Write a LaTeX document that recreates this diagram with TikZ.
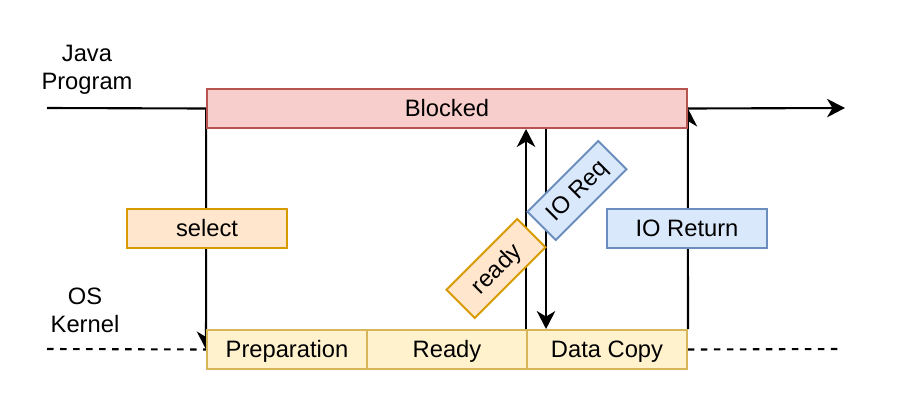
\documentclass[tikz,border=0pt]{standalone}
\usepackage{fontspec}
\setmainfont{Liberation Sans}
\usetikzlibrary{arrows.meta,backgrounds,calc}
\definecolor{blockfill}{HTML}{F8CECC}
\definecolor{blockline}{HTML}{B85450}
\definecolor{kernfill}{HTML}{FFF2CC}
\definecolor{kernline}{HTML}{D6B656}
\definecolor{callfill}{HTML}{FFE6CC}
\definecolor{callline}{HTML}{D79B00}
\definecolor{iofill}{HTML}{DAE8FC}
\definecolor{ioline}{HTML}{6C8EBF}

\begin{document}
\begin{tikzpicture}[x=0.02cm, y=-0.02cm,
        every node/.style={font=\fontsize{13.5}{16}\selectfont},
        box/.style={draw, line width=1.1pt, minimum height=0.78cm, minimum width=3.2cm, inner sep=0pt, text depth=0.1ex},
        redbox/.style={box, draw=blockline, fill=blockfill, minimum width=9.6cm},
        yelbox/.style={box, draw=kernline, fill=kernfill},
        orabox/.style={box, draw=callline, fill=callfill},
        bluebox/.style={box, draw=ioline, fill=iofill},
        tilted/.style={rotate=45, minimum width=2cm, minimum height=0.8cm},
        conn/.style={black, line width=1.2pt},
        arr/.style={conn, -{Stealth[length=0.36cm, width=0.37cm, inset=0.11cm]}}]
        \useasboundingbox (0,0) rectangle (904,410);
        % lanes
        \node[align=center] (java) at (87,70) {Java\\Program};
        \node[align=center] (os) at (85,310) {OS\\Kernel};
        \coordinate (javain) at (47,108);
        \coordinate (javaout) at (845,108);
        \coordinate (osin) at (47,349);
        \coordinate (osout) at (840,349);
        % program side
        \node[redbox] (blocked) at (447,108.5) {Blocked};
        % kernel side
        \node[yelbox] (prep) at (287,349.5) {Preparation};
        \node[yelbox] (rdy) at (447,349.5) {Ready};
        \node[yelbox] (copy) at (607,349.5) {Data Copy};
        % calls
        \node[orabox] (select) at (207,228.5) {select};
        \node[bluebox] (ioret) at (687,228.5) {IO Return};
        \node[orabox, tilted] (ready) at (496,268.5) {ready};
        \node[bluebox, tilted] (ioreq) at (577,190.5) {IO Req};
        \begin{scope}[on background layer]
            \fill[white] (0,0) rectangle (904,410);
            \draw[conn] (javain) -- (blocked.west);
            \draw[arr] (blocked.east) -- (javaout);
            \draw[conn, dash pattern=on 3.7pt off 3.7pt] (osin) -- (prep.west);
            \draw[conn, dash pattern=on 3.7pt off 3.7pt] (copy.east) -- (osout);
            \draw[arr] (blocked.west) -- (prep.west);
            \draw[arr] (copy.north east) -- (blocked.east);
            \draw[arr] (copy.north west) -- (copy.north west |- blocked.south);
            \draw[arr] ([xshift=0.4cm]copy.north west |- blocked.south) -- ([xshift=0.4cm]copy.north west);
        \end{scope}
\end{tikzpicture}
\end{document}
